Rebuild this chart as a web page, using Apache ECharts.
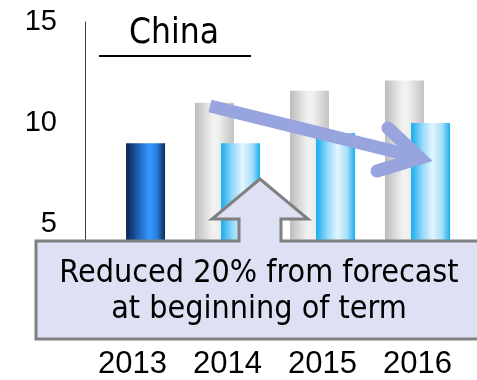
<!DOCTYPE html>
<html>
<head>
<meta charset="utf-8">
<style>
  html, body { margin: 0; padding: 0; background: #ffffff; }
  #chart { width: 477px; height: 380px; }
</style>
<script src="https://cdn.jsdelivr.net/npm/echarts@6/dist/echarts.min.js"></script>
</head>
<body>
<div id="chart"></div>
<script>
// Years shown on the category axis
const years = ['2013', '2014', '2015', '2016'];
// Forecast made at the beginning of the term (no forecast bar for 2013)
const forecast = [null, 11.0, 11.6, 12.1];
// Actual / revised values
const actual = [9.0, 9.0, 9.5, 10.0];
// Value axis ticks
const yTicks = [0, 5, 10, 15];

const title = 'China';
const noteLines = ['Reduced 20% from forecast', 'at beginning of term'];

const chart = echarts.init(document.getElementById('chart'), null, { renderer: 'canvas' });

const grad = (stops) => new echarts.graphic.LinearGradient(0, 0, 1, 0,
  stops.map(([offset, color]) => ({ offset, color })));

const grayFill = grad([[0, '#bcbcbc'], [0.45, '#f1f1f1'], [0.6, '#efefef'], [1, '#c2c2c2']]);
const lightBlueFill = grad([[0, '#16acef'], [0.3, '#98d9f8'], [0.55, '#e2f6ff'], [0.8, '#a6def8'], [1, '#17aeef']]);
const darkBlueFill = grad([[0, '#0b2350'], [0.35, '#2268c0'], [0.6, '#3399ff'], [0.78, '#2a80e0'], [1, '#0c2b58']]);

const actualData = actual.map((v, i) => i === 0
  ? { value: v, itemStyle: { color: darkBlueFill } }
  : v);

// outline of the note box with its upward pointer
const callout = [
  [36, 241], [239, 241], [239, 219], [212, 219], [260, 179], [308, 219],
  [281, 219], [281, 241], [482, 241], [482, 339], [36, 339]
];

const TOP = 100;

chart.setOption({
  animation: false,
  grid: { left: 85, right: 12, top: 22, bottom: 52 },
  xAxis: {
    type: 'category',
    data: years,
    axisLine: { show: false },
    axisTick: { show: false },
    axisLabel: {
      margin: 24,
      color: '#000',
      fontFamily: '"Liberation Sans", Arial, sans-serif',
      fontSize: 31
    }
  },
  yAxis: {
    type: 'value',
    min: yTicks[0],
    max: yTicks[yTicks.length - 1],
    interval: yTicks[1] - yTicks[0],
    axisLine: { show: true, lineStyle: { color: '#3a3a3a', width: 1 } },
    axisTick: { show: false },
    splitLine: { show: false },
    axisLabel: {
      margin: 28,
      color: '#000',
      fontFamily: '"Liberation Sans", Arial, sans-serif',
      fontSize: 29,
      formatter: (v) => (v === 0 ? '' : String(v))
    }
  },
  series: [
    {
      name: 'Forecast',
      type: 'bar',
      data: forecast,
      barWidth: 39,
      barGap: '-33%',
      itemStyle: { color: grayFill }
    },
    {
      name: 'Actual',
      type: 'bar',
      data: actualData,
      barWidth: 39,
      itemStyle: { color: lightBlueFill }
    }
  ],
  graphic: [
    {
      type: 'text',
      left: 129, top: 16, z: TOP,
      style: {
        text: title,
        fill: '#000',
        font: '35px "DejaVu Sans Condensed", "DejaVu Sans", sans-serif'
      }
    },
    {
      type: 'line', z: TOP,
      shape: { x1: 99, y1: 56, x2: 251, y2: 56 },
      style: { stroke: '#000', lineWidth: 2 }
    },
    // trend arrow: shaft
    {
      type: 'polyline', z: TOP,
      shape: { points: [[210, 106], [421, 158]] },
      style: { stroke: '#97a4de', lineWidth: 13, lineCap: 'butt', fill: null }
    },
    // trend arrow: head
    {
      type: 'polyline', z: TOP,
      shape: { points: [[388, 128], [420, 158], [377, 171]] },
      style: { stroke: '#97a4de', lineWidth: 13, lineCap: 'round', lineJoin: 'miter', miterLimit: 10, fill: null }
    },
    // note box
    {
      type: 'polygon', z: TOP,
      shape: { points: callout },
      style: { fill: '#dde1f3', stroke: '#808080', lineWidth: 3, lineJoin: 'miter' }
    },
    {
      type: 'text', z: TOP + 1,
      x: 259, y: 292,
      style: {
        text: noteLines.join('\n'),
        fill: '#000',
        align: 'center',
        verticalAlign: 'middle',
        lineHeight: 36,
        font: '32px "DejaVu Sans Condensed", "DejaVu Sans", sans-serif'
      }
    }
  ]
});
</script>
</body>
</html>
